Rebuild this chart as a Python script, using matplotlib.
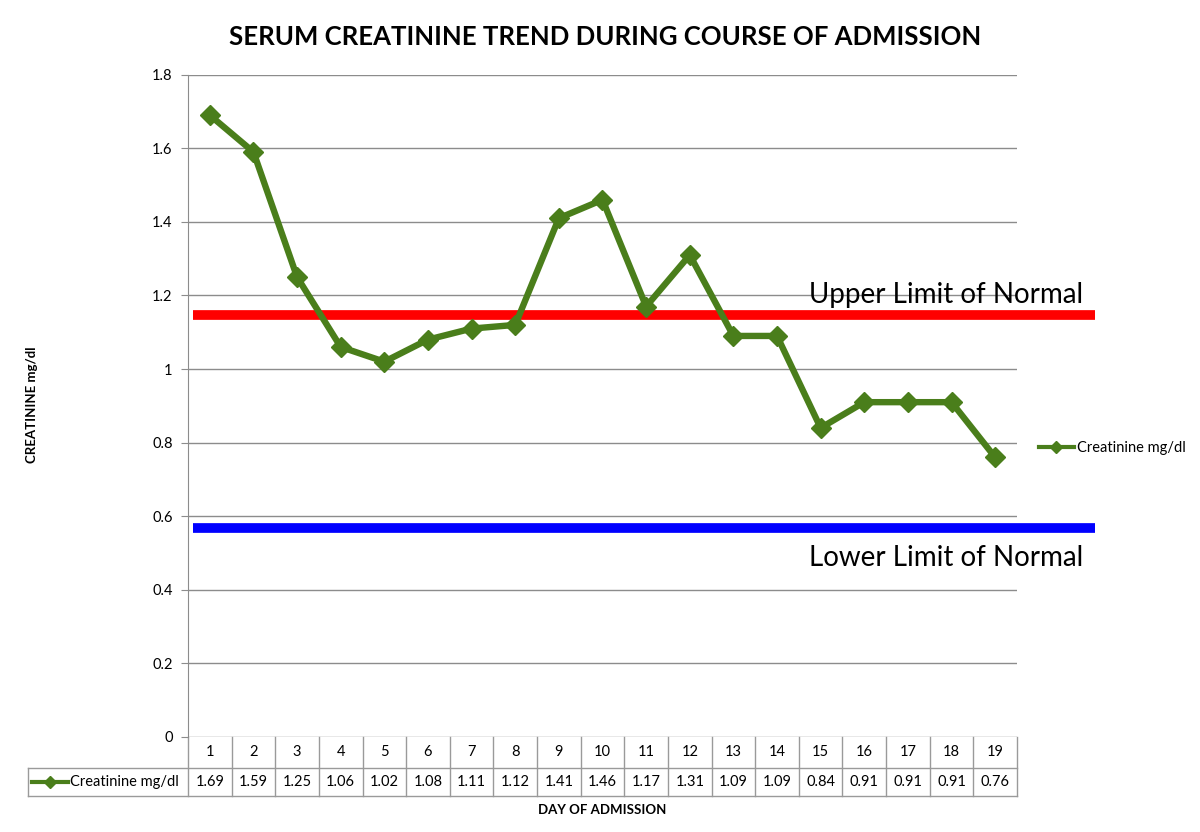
import matplotlib
matplotlib.use("Agg")
import matplotlib.pyplot as plt
from matplotlib.lines import Line2D

days = list(range(1, 20))
creat = [1.69, 1.59, 1.25, 1.06, 1.02, 1.08, 1.11, 1.12, 1.41, 1.46,
         1.17, 1.31, 1.09, 1.09, 0.84, 0.91, 0.91, 0.91, 0.76]
series_name = "Creatinine mg/dl"
upper_normal = 1.147
lower_normal = 0.568
yticks = [0, 0.2, 0.4, 0.6, 0.8, 1, 1.2, 1.4, 1.6, 1.8]

plt.rcParams['font.family'] = ['Lato', 'DejaVu Sans']
green = '#4a7e1b'
grid_c = '#8c8c8c'
tab_c = '#9a9a9a'

fig = plt.figure(figsize=(12, 8.32), dpi=100)
ax = fig.add_axes([188/1200, 1-737/832, 829/1200, (737-74.7)/832])

ax.set_xlim(0.5, 19.5)
ax.set_ylim(0, 1.8)
ax.set_yticks(yticks)
ax.set_yticklabels([f"{t:g}" for t in yticks], fontsize=10.5)
ax.yaxis.grid(True, color=grid_c, lw=1)
ax.set_axisbelow(True)
for s in ['top', 'right', 'bottom']:
    ax.spines[s].set_visible(False)
ax.spines['left'].set_color(grid_c)
ax.tick_params(axis='y', length=5, color=grid_c, pad=6)
ax.tick_params(axis='x', length=0, labelbottom=False)
ax.set_xticks([])

ax.plot(days, creat, color=green, lw=4.6, marker='D', ms=10, zorder=5,
        label=series_name)

yt = ax.get_yaxis_transform()
ax.plot([0.006, 1.094], [upper_normal, upper_normal], color='#ff0000', lw=7,
        transform=yt, clip_on=False, solid_capstyle='butt', zorder=4)
ax.plot([0.006, 1.094], [lower_normal, lower_normal], color='#0000ff', lw=7,
        transform=yt, clip_on=False, solid_capstyle='butt', zorder=4)
ax.text(1.08, 1.2, "Upper Limit of Normal", transform=yt, ha='right',
        va='center', fontsize=20)
ax.text(1.08, 0.487, "Lower Limit of Normal", transform=yt, ha='right',
        va='center', fontsize=20)

# data table below the axis
h1 = -31/662.3
h2 = -59/662.3
xl = (28-188)/829
xt = ax.get_xaxis_transform()
ax.plot([xl, 1], [h1, h1], color=tab_c, lw=1, transform=ax.transAxes, clip_on=False)
ax.plot([xl, 1], [h2, h2], color=tab_c, lw=1, transform=ax.transAxes, clip_on=False)
ax.plot([xl, xl], [h1, h2], color=tab_c, lw=1, transform=ax.transAxes, clip_on=False)
ax.plot([0, 0], [0, h2], color=tab_c, lw=1, transform=ax.transAxes, clip_on=False)
for i in range(len(days)):
    b = days[i] + 0.5
    ax.plot([b, b], [0, h2], color=tab_c, lw=1, transform=xt, clip_on=False)
    ax.text(days[i], h1/2, str(days[i]), transform=xt, ha='center',
            va='center', fontsize=10.5)
    ax.text(days[i], (h1+h2)/2, f"{creat[i]:.2f}", transform=xt,
            ha='center', va='center', fontsize=10.5)

ym = (h1+h2)/2
ax.add_line(Line2D([xl+4/829, xl+40/829], [ym, ym], color=green, lw=3,
                   transform=ax.transAxes, clip_on=False))
ax.add_line(Line2D([xl+22/829], [ym], color=green, marker='D', ms=6, lw=0,
                   transform=ax.transAxes, clip_on=False))
ax.text(xl+42/829, ym, series_name, transform=ax.transAxes,
        ha='left', va='center', fontsize=10.5)

fig.text(602/1200, 1-810/832, "DAY OF ADMISSION", ha='center', va='center',
         fontsize=9.5, fontweight='bold')
fig.text(32/1200, 1-405/832, "CREATININE mg/dl", ha='center', va='center',
         rotation=90, fontsize=9.5, fontweight='bold')
fig.text(605/1200, 1-37/832, "SERUM CREATININE TREND DURING COURSE OF ADMISSION",
         ha='center', va='center', fontsize=18.5, fontweight='bold')

fig.legend(handles=[Line2D([], [], color=green, lw=3, marker='D', ms=6)],
           labels=[series_name], loc='center left', frameon=False,
           bbox_to_anchor=(1033/1200, 1-448/832), fontsize=10.5,
           handlelength=2.4, handletextpad=0.2, borderaxespad=0)

fig.savefig("out.png", dpi=100, facecolor='white')
